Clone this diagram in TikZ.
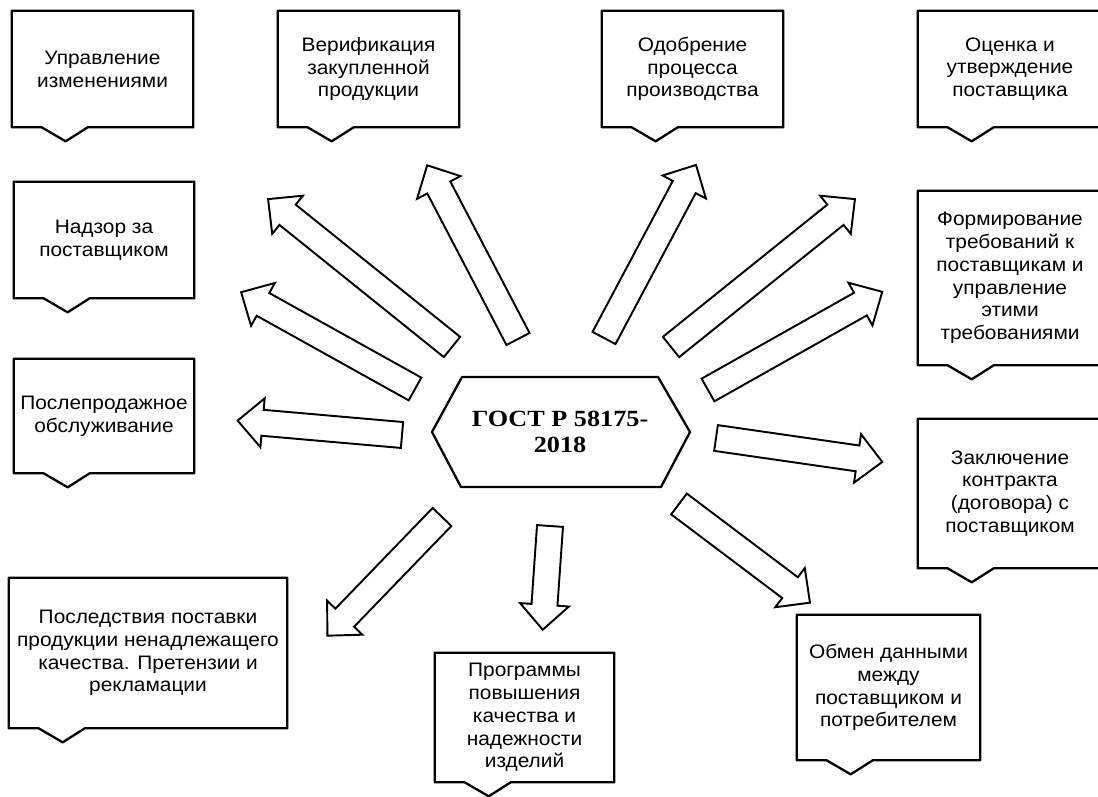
\documentclass[tikz,border=0pt]{standalone}
\usepackage{fontspec}
\setmainfont{Liberation Sans}[FakeStretch=1.07]
\newfontfamily\gostfont{Liberation Serif}[FakeStretch=1.13]
\usetikzlibrary{calc}

\newdimen\pxu
\pxu=0.02cm

% Kasten mit Zacken unten
\newcommand{\zackenkasten}[1]{%
  \draw[rand] ([xshift=30\pxu]#1.south west) -- (#1.south west) -- (#1.north west)
        -- (#1.north east) -- (#1.south east) -- ([xshift=76\pxu]#1.south west)
        -- ([xshift=54\pxu,yshift=-14\pxu]#1.south west) -- cycle;}

% Blockpfeil: Fuss, Winkel, Laenge
\newcommand{\blockpfeil}[3]{%
  \draw[pfeil, shift={(#1)}, rotate=#2] (0,-13) -- (#3-25,-13) -- (#3-25,-24.5)
        -- (#3,0) -- (#3-25,24.5) -- (#3-25,13) -- (0,13) -- cycle;}

\begin{document}
\begin{tikzpicture}[
        x=0.02cm, y=0.02cm,
        font=\fontsize{11.1}{13}\selectfont,
        kasten/.style={align=center, inner sep=0pt,
                       minimum width=3.62cm, minimum height=2.32cm},
        rand/.style={line width=1.3pt, line join=round},
        pfeil/.style={line width=1.1pt, line join=miter}
        ]
    \useasboundingbox (0,0) rectangle (1098,797);

    % Kaesten
    \node[kasten] (upr) at (102.5,728) {Управление\\изменениями};
    \node[kasten] (ver) at (368.5,728) {Верификация\\закупленной\\продукции};
    \node[kasten] (odo) at (692.5,728) {Одобрение\\процесса\\производства};
    \node[kasten, minimum width=3.68cm] (ots) at (1010,728) {Оценка и\\утверждение\\поставщика};
    \node[kasten, minimum width=3.6cm] (nad) at (104,557) {Надзор за\\поставщиком};
    \node[kasten, minimum width=3.6cm, minimum height=2.28cm] (pos) at (104,381) {Послепродажное\\обслуживание};
    \node[kasten, minimum width=5.56cm, minimum height=3cm] (psl) at (148,144)
        {Последствия поставки\\продукции ненадлежащего\\качества. Претензии и\\рекламации};
    \node[kasten, minimum width=3.58cm, minimum height=2.58cm] (prg) at (524.5,79.5)
        {Программы\\повышения\\качества и\\надежности\\изделий};
    \node[kasten, minimum width=3.66cm, minimum height=2.9cm] (obm) at (888.5,109.5)
        {Обмен данными\\между\\поставщиком и\\потребителем};
    \node[kasten, minimum width=3.68cm, minimum height=2.98cm] (zak) at (1010,303.5)
        {Заключение\\контракта\\(договора) с\\поставщиком};
    \node[kasten, minimum width=3.68cm, minimum height=3.48cm] (frm) at (1010,519)
        {Формирование\\требований к\\поставщикам и\\управление\\этими\\требованиями};

    \foreach \k in {upr,ver,odo,ots,nad,pos,psl,prg,obm,zak,frm}
        \zackenkasten{\k};

    % Mitte
    \node[font={\gostfont\bfseries\fontsize{13.2}{14.7}\selectfont}, align=center] (gost)
        at (560,365) {ГОСТ Р 58175-\\2018};
    \draw[rand] ($(gost)+(-128,0)$) -- ++(30,55) -- ++(196,0) -- ++(32,-55)
        -- ++(-29,-55) -- ++(-200,0) -- cycle;

    % Pfeile
    \blockpfeil{452,450}{141.2}{236}
    \blockpfeil{415,408}{150.9}{199}
    \blockpfeil{402,362}{175}{165}
    \blockpfeil{518,458}{117.6}{196}
    \blockpfeil{604,459}{62}{196}
    \blockpfeil{671,450}{38.8}{236}
    \blockpfeil{708,407}{29.4}{200}
    \blockpfeil{716,359}{-8.2}{168}
    \blockpfeil{442,280}{226}{165}
    \blockpfeil{550,271}{-94}{104}
    \blockpfeil{679,293}{-37}{164}

\end{tikzpicture}
\end{document}
